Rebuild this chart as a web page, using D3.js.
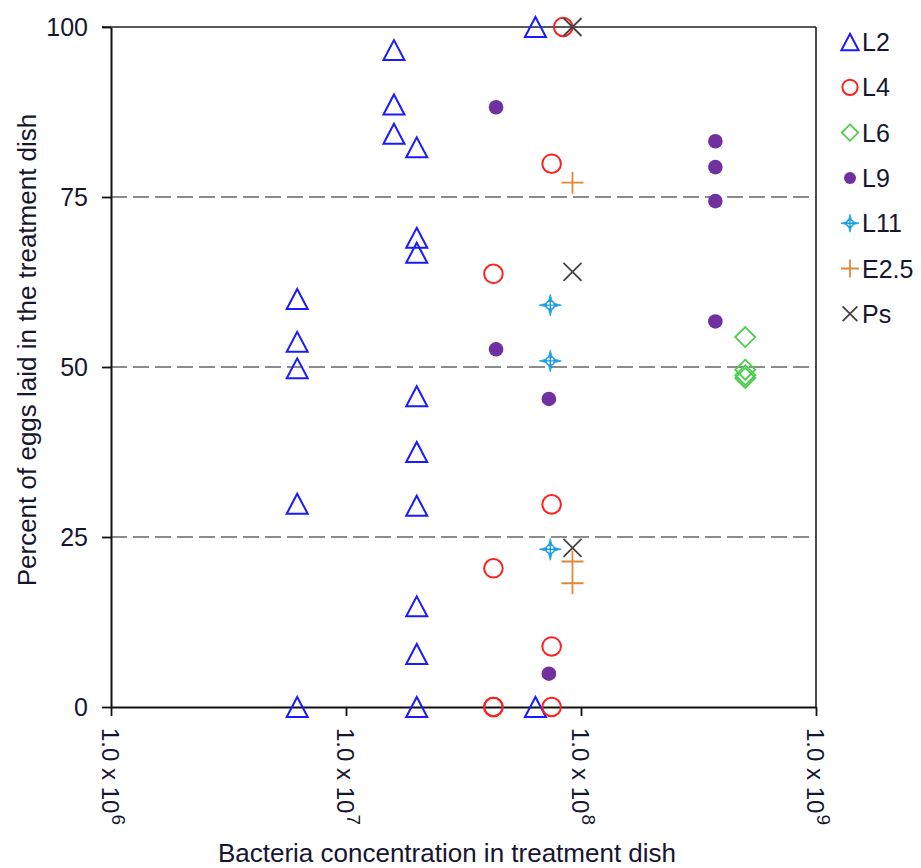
<!DOCTYPE html>
<html>
<head>
<meta charset="utf-8">
<script src="https://cdn.jsdelivr.net/npm/d3@7"></script>
<style>
  body { margin: 0; background: #fff; }
  svg text { font-family: "Liberation Sans", Arial, sans-serif; fill: #161630; }
</style>
</head>
<body>
<div id="chart"></div>
<script>
// data: [bacteria concentration, percent of eggs]
const l2 = [
  [6.2e6, 60], [6.2e6, 53.7], [6.2e6, 49.8], [6.2e6, 29.9], [6.2e6, 0],
  [1.6e7, 96.6], [1.6e7, 88.6], [1.6e7, 84.3],
  [2e7, 82.3], [2e7, 69], [2e7, 66.8], [2e7, 45.7], [2e7, 37.5],
  [2e7, 29.6], [2e7, 14.8], [2e7, 7.8], [2e7, 0],
  [6.4e7, 100], [6.4e7, 0],
];
const l4 = [
  [4.24e7, 63.7], [4.24e7, 20.4], [4.24e7, 0], [4.24e7, 0],
  [7.5e7, 79.9], [7.5e7, 29.8], [7.5e7, 8.9], [7.5e7, 0],
  [8.4e7, 100],
];
const l6 = [[5e8, 54.4], [5e8, 49.6], [5e8, 48.8], [5e8, 48.4]];
const l9 = [
  [4.35e7, 88.2], [4.35e7, 52.6],
  [7.3e7, 45.3], [7.3e7, 4.9],
  [3.73e8, 83.2], [3.73e8, 79.4], [3.73e8, 74.4], [3.73e8, 56.7],
];
const l11 = [[7.4e7, 59.1], [7.4e7, 50.9], [7.4e7, 23.2]];
const e25 = [[9.2e7, 77.1], [9.2e7, 21.4], [9.2e7, 18.2]];
const ps = [[9.2e7, 100], [9.2e7, 64.0], [9.2e7, 23.4]];

const series_names = ["L2", "L4", "L6", "L9", "L11", "E2.5", "Ps"];
const x_ticks = [1e6, 1e7, 1e8, 1e9];
const x_tick_exps = ["6", "7", "8", "9"];
const y_ticks = [0, 25, 50, 75, 100];
const grid_values = [25, 50, 75];

const series = [
  { name: "L2", data: l2, shape: "triangle", color: "#1a1aff" },
  { name: "L4", data: l4, shape: "circle", color: "#ff2020" },
  { name: "L6", data: l6, shape: "diamond", color: "#4ccc4c" },
  { name: "L9", data: l9, shape: "dot", color: "#7030a0" },
  { name: "L11", data: l11, shape: "star", color: "#1a9fe6" },
  { name: "E2.5", data: e25, shape: "plus", color: "#e08838" },
  { name: "Ps", data: ps, shape: "cross", color: "#444444" },
];

const W = 921, H = 868;
const plot = { left: 111, right: 816, top: 27, bottom: 707 };

const svg = d3.select("#chart").append("svg")
  .attr("width", W).attr("height", H);

const x = d3.scaleLog().domain([1e6, 1e9]).range([plot.left, plot.right]);
const y = d3.scaleLinear().domain([0, 100]).range([plot.bottom, plot.top]);

// dashed gridlines
svg.append("g")
  .selectAll("line")
  .data(grid_values)
  .join("line")
  .attr("x1", plot.left).attr("x2", plot.right)
  .attr("y1", (d) => y(d)).attr("y2", (d) => y(d))
  .attr("stroke", "#8c8c8c")
  .attr("stroke-width", 1.8)
  .attr("stroke-dasharray", "16,6");

// frame: top + right
svg.append("line")
  .attr("x1", plot.left - 9).attr("x2", plot.right)
  .attr("y1", plot.top).attr("y2", plot.top)
  .attr("stroke", "#222").attr("stroke-width", 1.6);
svg.append("line")
  .attr("x1", plot.right).attr("x2", plot.right)
  .attr("y1", plot.top).attr("y2", plot.bottom)
  .attr("stroke", "#222").attr("stroke-width", 1.6);

// y axis
const yAxis = svg.append("g")
  .attr("transform", `translate(${plot.left},0)`)
  .call(d3.axisLeft(y).tickValues(y_ticks).tickSize(9).tickSizeOuter(0).tickPadding(14));
yAxis.select(".domain").attr("stroke", "#111").attr("stroke-width", 2);
yAxis.selectAll(".tick line").attr("stroke", "#111").attr("stroke-width", 1.8);
yAxis.selectAll(".tick text")
  .attr("font-size", 25)
  .attr("font-family", null)
  .attr("fill", null);

// x axis
const xAxis = svg.append("g")
  .attr("transform", `translate(0,${plot.bottom})`)
  .call(d3.axisBottom(x).tickValues(x_ticks).tickSize(9).tickSizeOuter(0).tickFormat(""));
xAxis.select(".domain").attr("stroke", "#111").attr("stroke-width", 2);
xAxis.selectAll(".tick line").attr("stroke", "#111").attr("stroke-width", 1.8);

// rotated x tick labels, "1.0 x 10^n"
const xlab = svg.append("g")
  .selectAll("text")
  .data(x_ticks)
  .join("text")
  .attr("transform", (d) => `translate(${x(d) - 9},${plot.bottom + 21}) rotate(90)`)
  .attr("font-size", 24);
xlab.append("tspan").text("1.0 x 10");
xlab.append("tspan")
  .attr("font-size", 19)
  .attr("dx", 1)
  .attr("dy", -10)
  .text((d, i) => x_tick_exps[i]);

// axis titles
svg.append("text")
  .attr("x", 447).attr("y", 862)
  .attr("text-anchor", "middle")
  .attr("font-size", 26)
  .text("Bacteria concentration in treatment dish");
svg.append("text")
  .attr("transform", "translate(36,350) rotate(-90)")
  .attr("text-anchor", "middle")
  .attr("font-size", 26)
  .text("Percent of eggs laid in the treatment dish");

// markers
function drawMarker(g, shape, color, s) {
  if (shape === "triangle") {
    g.append("path")
      .attr("d", `M0,${-10 * s} L${10.5 * s},${10 * s} L${-10.5 * s},${10 * s} Z`)
      .attr("fill", "none").attr("stroke", color).attr("stroke-width", 2);
  } else if (shape === "circle") {
    g.append("circle").attr("r", 9.3 * s)
      .attr("fill", "none").attr("stroke", color).attr("stroke-width", 2);
  } else if (shape === "diamond") {
    g.append("path")
      .attr("d", `M0,${-10 * s} L${10 * s},0 L0,${10 * s} L${-10 * s},0 Z`)
      .attr("fill", "none").attr("stroke", color).attr("stroke-width", 1.8);
  } else if (shape === "dot") {
    g.append("circle").attr("r", 7.3 * s).attr("fill", color);
  } else if (shape === "star") {
    const a = 11 * s, b = 2.2 * s;
    g.append("path")
      .attr("d", `M0,${-a} L${b},${-b} L${a},0 L${b},${b} L0,${a} L${-b},${b} L${-a},0 L${-b},${-b} Z`)
      .attr("fill", color).attr("stroke", color).attr("stroke-width", 0.8);
    g.append("circle").attr("r", 4.2 * s)
      .attr("fill", "#fff").attr("stroke", color).attr("stroke-width", 1.6);
    g.append("path")
      .attr("d", `M${-4 * s},0 H${4 * s} M0,${-4 * s} V${4 * s}`)
      .attr("stroke", color).attr("stroke-width", 1.4);
  } else if (shape === "plus") {
    const a = 11 * s;
    g.append("path")
      .attr("d", `M${-a},0 H${a} M0,${-a} V${a}`)
      .attr("stroke", color).attr("stroke-width", 1.8);
  } else if (shape === "cross") {
    const a = 9 * s;
    g.append("path")
      .attr("d", `M${-a},${-a} L${a},${a} M${a},${-a} L${-a},${a}`)
      .attr("stroke", color).attr("stroke-width", 1.8);
  }
}

series.forEach((ser) => {
  svg.append("g")
    .selectAll("g")
    .data(ser.data)
    .join("g")
    .attr("transform", (d) => `translate(${x(d[0])},${y(d[1])})`)
    .each(function () {
      drawMarker(d3.select(this), ser.shape, ser.color, 1);
    });
});

// legend
const legend = svg.append("g")
  .selectAll("g")
  .data(series)
  .join("g")
  .attr("transform", (d, i) => `translate(850,${42 + i * 45.3})`);
legend.each(function (d) {
  drawMarker(d3.select(this), d.shape, d.color, 0.82);
});
legend.append("text")
  .attr("x", 12)
  .attr("dy", "0.36em")
  .attr("font-size", 25)
  .text((d, i) => series_names[i]);
</script>
</body>
</html>
